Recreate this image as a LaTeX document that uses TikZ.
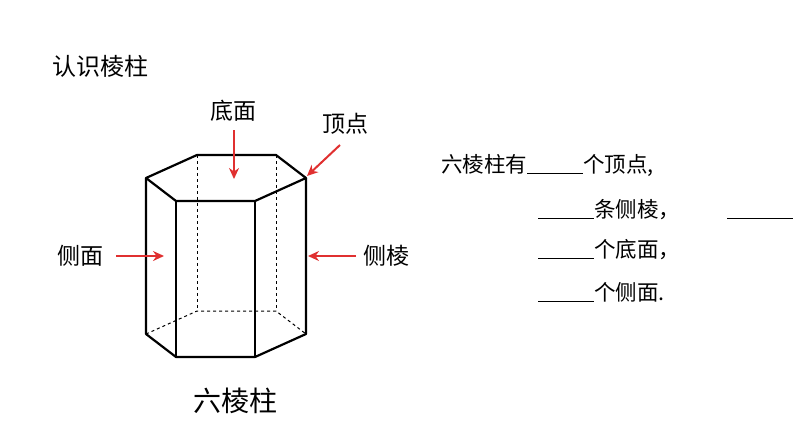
\documentclass[tikz,border=0pt]{standalone}
\usepackage{fontspec}
\setmainfont{Noto Sans CJK SC}
\usetikzlibrary{arrows.meta}
\definecolor{arrowred}{RGB}{224,48,48}
\tikzset{
  edge/.style = {line width = 2.2pt, line join = round},
  hidden/.style = {dashed, line width = 1pt},
  pointer/.style = {arrowred, line width = 2pt, -{Stealth[length = 11pt, width = 10pt]}},
  lbl/.style = {font = \fontsize{23}{23}\selectfont},
  fill/.style = {anchor = base west, inner sep = 0pt, font = \fontsize{21.5}{21.5}\selectfont}
}
\newcommand{\blank}{\underline{\hspace{56pt}}}
\begin{document}
\begin{tikzpicture}[x = 1pt, y = -1pt]
    \useasboundingbox (0, 0) rectangle (794, 447);

    % top and bottom hexagon corners
    \coordinate (a) at (146, 178);
    \coordinate (b) at (197, 155);
    \coordinate (c) at (276, 155);
    \coordinate (d) at (306, 178);
    \coordinate (e) at (255, 201);
    \coordinate (f) at (176, 201);
    \coordinate (a2) at (146, 334);
    \coordinate (b2) at (197, 311);
    \coordinate (c2) at (276, 311);
    \coordinate (d2) at (306, 334);
    \coordinate (e2) at (255, 357);
    \coordinate (f2) at (176, 357);

    \draw[hidden] (b) -- (b2);
    \draw[hidden] (c) -- (c2);
    \draw[hidden] (a2) -- (b2) -- (c2) -- (d2);

    \draw[edge] (a) -- (b) -- (c) -- (d) -- (e) -- (f) -- cycle;
    \draw[edge] (a) -- (a2) -- (f2) -- (e2) -- (d2) -- (d);
    \draw[edge] (f) -- (f2);
    \draw[edge] (e) -- (e2);

    \node[lbl] (base) at (233, 111) {底面};
    \node[lbl] (vertex) at (345, 124) {顶点};
    \node[lbl] (face) at (80, 256) {侧面};
    \node[lbl] (side) at (386, 256) {侧棱};
    \node[font = \fontsize{28}{28}\selectfont] (name) at (235, 401) {六棱柱};
    \node[anchor = west, inner sep = 0pt, font = \fontsize{24}{24}\selectfont] (title) at (52, 66) {认识棱柱};

    \draw[pointer] (234, 130) -- (234, 179);
    \draw[pointer] (340, 145) -- (307, 176);
    \draw[pointer] (116, 256) -- (164, 256);
    \draw[pointer] (356, 256) -- (308, 256);

    \node[fill] (q1) at (441, 172) {六棱柱有\blank 个顶点,};
    \node[fill] (q2) at (538, 217) {\blank 条侧棱，};
    \node[fill] (q2b) at (727, 217) {\underline{\hspace{66pt}}};
    \node[fill] (q3) at (538, 257) {\blank 个底面，};
    \node[fill] (q4) at (538, 300) {\blank 个侧面.};
  \end{tikzpicture}
\end{document}
